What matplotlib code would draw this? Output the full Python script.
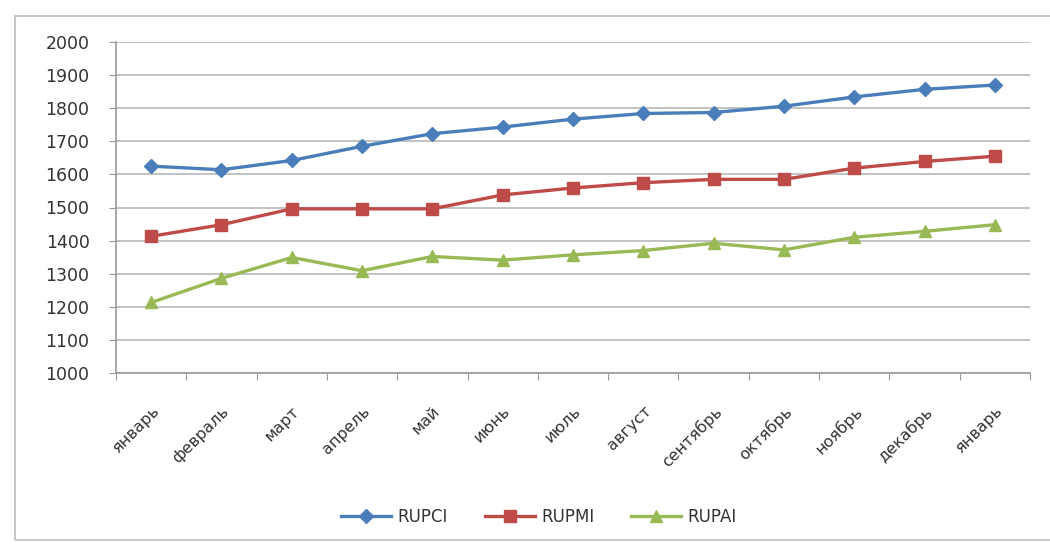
import matplotlib.pyplot as plt
from matplotlib.patches import Rectangle

months = ["январь", "февраль", "март", "апрель", "май", "июнь", "июль",
          "август", "сентябрь", "октябрь", "ноябрь", "декабрь", "январь"]
rupci = [1625, 1614, 1642, 1685, 1723, 1743, 1767, 1784, 1787, 1806, 1834, 1857, 1870]
rupmi = [1413, 1448, 1496, 1496, 1496, 1538, 1559, 1575, 1585, 1585, 1619, 1639, 1655]
rupai = [1213, 1286, 1349, 1309, 1352, 1341, 1357, 1370, 1392, 1372, 1410, 1428, 1448]

plt.rcParams['font.family'] = ['DejaVu Sans']

fig = plt.figure(figsize=(10.5, 5.45), dpi=100)
ax = fig.add_axes([116 / 1050, 1 - 373 / 545, 914 / 1050, 331 / 545])

x = list(range(len(months)))
ax.plot(x, rupci, color='#4a7ebb', lw=2.4, marker='D', ms=7.5, label='RUPCI')
ax.plot(x, rupmi, color='#be4b48', lw=2.4, marker='s', ms=9, label='RUPMI')
ax.plot(x, rupai, color='#98b954', lw=2.4, marker='^', ms=9, label='RUPAI')

ax.set_xlim(-0.5, len(months) - 0.5)
ax.set_ylim(1000, 2000)
ax.set_yticks(range(1000, 2001, 100))
ax.yaxis.grid(True, color='#b8b8b8', lw=1.2)
ax.set_axisbelow(True)

# category boundaries get the tick marks, labels sit between them
ax.set_xticks([i - 0.5 for i in range(len(months) + 1)])
ax.set_xticklabels([])
ax.set_xticks(x, minor=True)
ax.set_xticklabels(months, minor=True, rotation=45, ha='right',
                   rotation_mode='anchor', fontsize=11.5, color='#333333')
ax.tick_params(axis='x', which='major', length=5, color='#999999')
ax.tick_params(axis='x', which='minor', length=0, pad=22)
ax.tick_params(axis='y', length=5, color='#999999', labelsize=12.5,
               labelcolor='#333333', pad=14)

for side in ['top', 'right']:
    ax.spines[side].set_visible(False)
for side in ['left', 'bottom']:
    ax.spines[side].set_color('#999999')
    ax.spines[side].set_linewidth(1.2)

fig.legend(loc='center', bbox_to_anchor=(539 / 1050, 1 - 517 / 545), ncol=3,
           frameon=False, fontsize=12, handlelength=3.0, columnspacing=2.2,
           handletextpad=0.4, labelcolor='#333333')

fig.patches.append(Rectangle((15 / 1050, 5 / 545), 1.2, 1 - 21 / 545,
                             transform=fig.transFigure, fill=False,
                             edgecolor='#c8c8c8', lw=1.5))

fig.savefig('out.png', dpi=100)
